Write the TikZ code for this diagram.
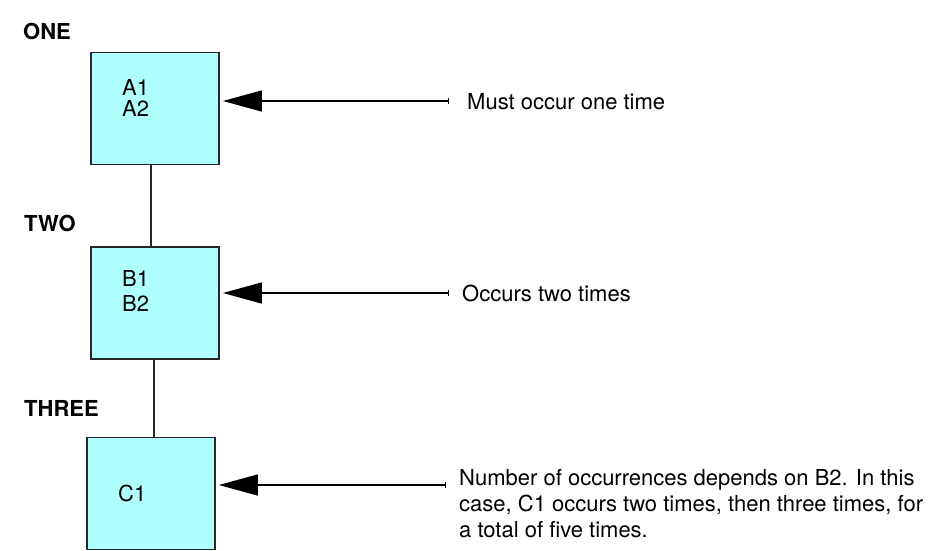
\documentclass[tikz,border=0pt]{standalone}
\usepackage{fontspec}
\setmainfont{TeX Gyre Heros}
\usetikzlibrary{arrows.meta}
\definecolor{boxfill}{RGB}{176,255,255}
\begin{document}
\begin{tikzpicture}[x=1pt,y=-1pt,
  box/.style={draw=black!85, line width=1.8pt, fill=boxfill, minimum width=128pt, minimum height=112pt, inner sep=0pt},
  lbl/.style={font=\fontsize{22}{26}\selectfont\bfseries, anchor=base west, inner sep=0pt},
  txt/.style={font=\fontsize{22}{26}\selectfont, inner sep=0pt},
  arr/.style={line width=1.5pt, {Bar[width=6pt,line width=1.2pt]}-{Triangle[length=39pt,width=21pt]}, shorten >=3pt},
  link/.style={line width=1.5pt, draw=black!85}]
\useasboundingbox (0,0) rectangle (947,551);

\node[lbl] (one) at (23,40) {ONE};
\node[lbl] (two) at (24,231) {TWO};
\node[lbl] (three) at (24,416) {THREE};

\node[box] (A) at (155,108.5) {};
\node[box] (B) at (155,303) {};
\node[box] (C) at (151,493.5) {};

\node[txt, align=left, anchor=north west, font=\fontsize{22}{21}\selectfont] (at) at (122,79) {A1\\A2};
\node[txt, align=left, anchor=north west, font=\fontsize{22}{25}\selectfont] (bt) at (122,270) {B1\\B2};
\node[txt, anchor=base west] (ct) at (118,501) {C1};

\draw[link] ([xshift=-4pt]A.south) -- ([xshift=-4pt]B.north);
\draw[link] ([xshift=-1pt]B.south) -- ([xshift=3pt]C.north);

\coordinate (ea) at (449,101);
\coordinate (eb) at (449,293);
\coordinate (ec) at (446,485);

\node[txt, anchor=base west] (ta) at (467,109) {Must occur one time};
\node[txt, anchor=base west] (tb) at (462,301) {Occurs two times};
\node[txt, align=left, anchor=north west] (tc) at (459,469)
  {Number of occurrences depends on B2. In this\\case, C1 occurs two times, then three times, for\\a total of five times.};

\draw[arr] (ea) -- (A.east |- ea);
\draw[arr] (eb) -- (B.east |- eb);
\draw[arr] (ec) -- (C.east |- ec);
\end{tikzpicture}
\end{document}
